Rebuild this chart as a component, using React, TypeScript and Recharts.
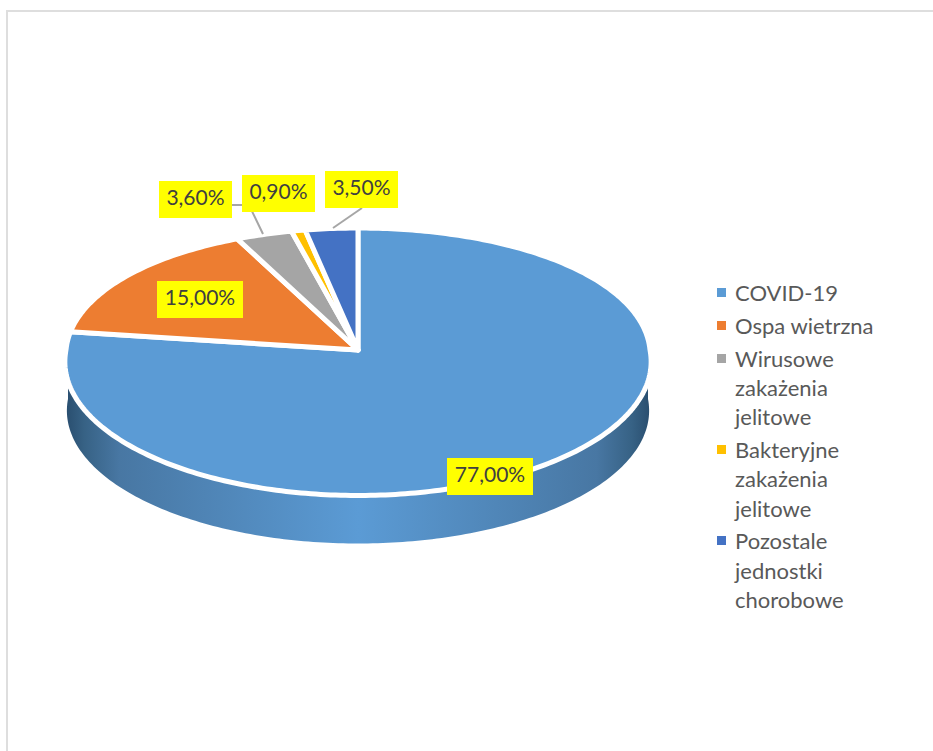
import { Legend, Pie, PieChart } from 'recharts'

const categories = [
  'COVID-19',
  'Ospa wietrzna',
  'Wirusowe zakażenia jelitowe',
  'Bakteryjne zakażenia jelitowe',
  'Pozostale jednostki chorobowe',
]
const shares = [77, 15, 3.6, 0.9, 3.5]
const colors = ['#5b9bd5', '#ed7d31', '#a5a5a5', '#ffc000', '#4472c4']

const data = categories.map((name, i) => ({ name, value: shares[i], fill: colors[i] }))

// centre of each yellow label box, by slice
const labelCenters = [
  [490, 476.5],
  [200, 299.5],
  [195.5, 199.5],
  [278.5, 193.5],
  [361.5, 189.5],
]
const labelWidths = [86, 86, 73, 73, 73]

// excel style perspective for the flattened disc
const CX = 358
const CY = 350
const K = 0.0879
const TILT = 132.7 / 292
const DEPTH = 49

const project = (deg: number, radius: number, dy = 0) => {
  const warped = ((deg - 3 * Math.sin((2 * deg * Math.PI) / 180)) * Math.PI) / 180
  const u = Math.sin(warped)
  const v = Math.cos(warped)
  const d = 1 + K * v
  // the back shoulders of the disc sit a little further out than a true ellipse
  const r = radius * (1 + (v > 0 ? 0.046 * u * u * v : 0))
  return [CX + (r * u) / d, CY + dy - (r * TILT * v) / d]
}

const arcPoints = (from: number, to: number, radius: number, dy = 0) => {
  const steps = Math.max(2, Math.ceil(Math.abs(to - from)))
  const pts = []
  for (let i = 0; i <= steps; i++) {
    pts.push(project(from + ((to - from) * i) / steps, radius, dy))
  }
  return pts
}

const toPath = (pts: number[][]) => 'M' + pts.map((p) => p[0].toFixed(2) + ',' + p[1].toFixed(2)).join('L') + 'Z'

function TopSlice(props: any) {
  const from = 90 - props.startAngle
  const to = 90 - props.endAngle
  const d = toPath([[CX, CY], ...arcPoints(from, to, props.outerRadius)])
  return <path d={d} fill={props.fill} stroke="#fff" strokeWidth={5} strokeLinejoin="round" />
}

function RimSlice(props: any) {
  const from = Math.max(90 - props.startAngle, 90)
  const to = Math.min(90 - props.endAngle, 270)
  if (to <= from) return <g />
  const top = arcPoints(from, to, props.outerRadius - 2)
  const bottom = arcPoints(to, from, props.outerRadius - 2, DEPTH)
  return <path d={toPath([...top, ...bottom])} fill="url(#rimGradient)" />
}

function SliceLabel(props: any) {
  const i = props.index
  const [x, y] = labelCenters[i]
  const w = labelWidths[i]
  return (
    <g>
      {i === 2 && <polyline points="232,205 249,205 263,234" fill="none" stroke="#a6a6a6" strokeWidth={2} />}
      {i === 4 && <line x1={362} y1={208} x2={333} y2={228} stroke="#a6a6a6" strokeWidth={2} />}
      <rect x={x - w / 2} y={y - 18.5} width={w} height={37} fill="#ffff00" />
      <text
        x={x}
        y={y + 5.5}
        textAnchor="middle"
        fontFamily="Lato"
        fontSize={21}
        fill="#404040"
      >
        {props.value.toFixed(2).replace('.', ',') + '%'}
      </text>
    </g>
  )
}

function LegendList(props: any) {
  // both pies report to the legend, keep one entry per category
  const items = categories.map((name) => props.payload.find((entry: any) => entry.value === name)).filter(Boolean)
  return (
    <div style={{ fontFamily: 'Lato', fontSize: 22, lineHeight: '29.3px', color: '#595959' }}>
      {items.map((entry: any) => (
        <div key={entry.value} style={{ position: 'relative', paddingLeft: 18, marginBottom: 3.5 }}>
          <span
            style={{
              position: 'absolute',
              left: 0,
              top: 10,
              width: 9,
              height: 9,
              background: entry.color,
            }}
          />
          {entry.value}
        </div>
      ))}
    </div>
  )
}

export default function App() {
  return (
    <div style={{ position: 'absolute', left: 0, top: 0, width: 933, height: 751, overflow: 'hidden', background: '#fff' }}>
      <div
        style={{
          position: 'absolute',
          left: 6,
          top: 10,
          width: 1000,
          height: 1000,
          borderLeft: '2px solid #dedede',
          borderTop: '2px solid #dedede',
        }}
      />
      <PieChart width={933} height={751} margin={{ top: 0, right: 0, bottom: 0, left: 0 }} style={{ position: 'absolute', left: 0, top: 0 }}>
        <defs>
          <linearGradient id="rimGradient" x1="0" y1="0" x2="1" y2="0">
            <stop offset="0" stopColor="#2a4f70" />
            <stop offset="0.03" stopColor="#376285" />
            <stop offset="0.09" stopColor="#4877a3" />
            <stop offset="0.5" stopColor="#5b9bd5" />
            <stop offset="0.91" stopColor="#4877a3" />
            <stop offset="0.97" stopColor="#376285" />
            <stop offset="1" stopColor="#2a4f70" />
          </linearGradient>
        </defs>
        <Pie
          data={data}
          dataKey="value"
          nameKey="name"
          cx={CX}
          cy={CY}
          outerRadius={292}
          startAngle={90}
          endAngle={-270}
          legendType="none"
          shape={RimSlice}
          isAnimationActive={false}
        />
        <Pie
          data={data}
          dataKey="value"
          nameKey="name"
          cx={CX}
          cy={CY}
          outerRadius={292}
          startAngle={90}
          endAngle={-270}
          shape={TopSlice}
          label={SliceLabel}
          labelLine={false}
          isAnimationActive={false}
        />
        <Legend
          layout="vertical"
          align="left"
          verticalAlign="top"
          content={LegendList}
          wrapperStyle={{ left: 717, top: 278, width: 165 }}
        />
      </PieChart>
    </div>
  )
}
